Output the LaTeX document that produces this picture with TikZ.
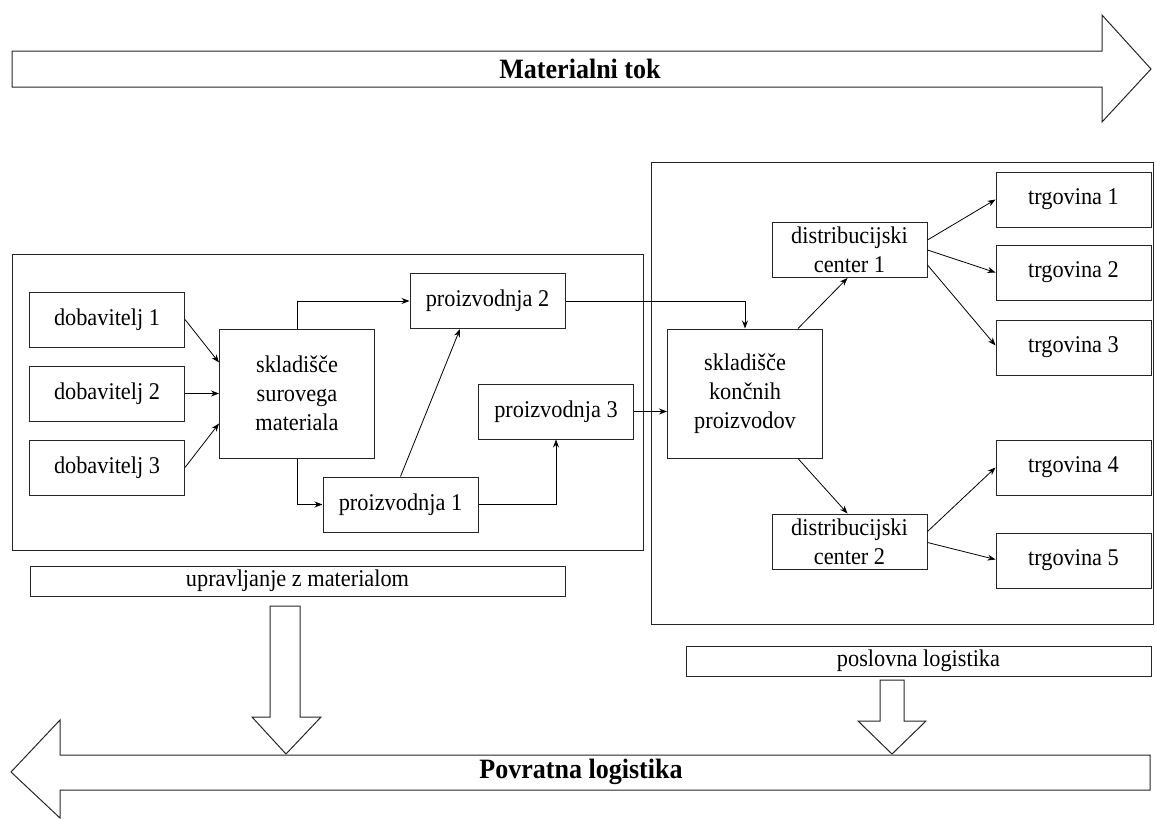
\documentclass[tikz,border=0pt]{standalone}
\usepackage{fontspec}
\setmainfont[FakeStretch=0.93]{Liberation Serif}
\usetikzlibrary{arrows.meta}
\begin{document}
\begin{tikzpicture}[x=1pt,y=-1pt,
  every node/.style={font=\fontsize{24}{29}\selectfont},
  line/.style={draw=black!85,line width=1pt},
  blk/.style={line,fill=white,align=center,inner sep=0pt,minimum width=155pt,minimum height=55pt},
  tallblk/.style={blk,minimum height=129pt},
  bar/.style={line,inner sep=0pt,minimum height=30pt},
  frame/.style={line},
  bigarrow/.style={line,fill=white,line join=miter},
  arr/.style={draw=black,line width=0.8pt,-{Stealth[length=8pt,width=6pt]}},
  title/.style={font=\fontsize{28}{32}\selectfont\bfseries}]
\useasboundingbox (0,0) rectangle (1157,819);

% material flow arrow
\draw[bigarrow] (12,51) -- (1102,51) -- (1102,15) -- (1151,69) -- (1102,122) -- (1102,87) -- (12,87) -- cycle;
\node[title] (mt) at (580,69) {Materialni tok};

% group frames
\draw[frame] (12,254) rectangle (643,550);
\draw[frame] (651,162) rectangle (1153,624);

% supply side
\node[blk] (d1) at (107,319.5) {dobavitelj 1};
\node[blk] (d2) at (107,393.5) {dobavitelj 2};
\node[blk] (d3) at (107,467.5) {dobavitelj 3};
\node[tallblk] (s1) at (297,393.5) {skladišče\\surovega\\materiala};
\node[blk] (p2) at (487.5,301) {proizvodnja 2};
\node[blk] (p3) at (556,411.5) {proizvodnja 3};
\node[blk] (p1) at (400.5,504.5) {proizvodnja 1};

% distribution side
\node[tallblk] (s2) at (745,393.5) {skladišče\\končnih\\proizvodov};
\node[blk] (c1) at (849.5,250) {distribucijski\\center 1};
\node[blk] (c2) at (849.5,541.5) {distribucijski\\center 2};
\node[blk] (t1) at (1073.5,199.5) {trgovina 1};
\node[blk] (t2) at (1073.5,272.5) {trgovina 2};
\node[blk] (t3) at (1073.5,347.5) {trgovina 3};
\node[blk] (t4) at (1073.5,467.5) {trgovina 4};
\node[blk] (t5) at (1073.5,560.5) {trgovina 5};

% labels under the frames
\node[bar,minimum width=535pt] (um) at (297.5,581) {upravljanje z materialom};
\node[bar,minimum width=465pt] (pl) at (918.5,661) {poslovna logistika};

% connectors
\draw[arr] (d1.east) -- ([yshift=31pt]s1.west);
\draw[arr] (d2.east) -- (s1.west);
\draw[arr] (d3.east) -- ([yshift=-30pt]s1.west);
\draw[arr] (s1.north) |- (p2.west);
\draw[arr] (s1.south) |- (p1.west);
\draw[arr] (p1.north) -- ([xshift=-27.5pt]p2.south);
\draw[arr] (p1.east) -| (p3.south);
\draw[arr] (p2.east) -| (s2.north);
\draw[arr] (p3.east) -- (p3.east -| s2.west);
\draw[arr] ([xshift=53pt]s2.north) -- ([xshift=-2pt]c1.south);
\draw[arr] ([xshift=53pt]s2.south) -- ([xshift=-2pt]c2.north);
\draw[arr] ([yshift=10pt]c1.east) -- (t1.west);
\draw[arr] (c1.east) -- (t2.west);
\draw[arr] ([yshift=-15pt]c1.east) -- ([yshift=2pt]t3.west);
\draw[arr] ([yshift=10pt]c2.east) -- (t4.west);
\draw[arr] ([yshift=-1pt]c2.east) -- ([yshift=1pt]t5.west);

% hollow arrows into reverse logistics
\draw[bigarrow] (270,606) -- (300,606) -- (300,717) -- (321,717) -- (286,754) -- (252,717) -- (270,717) -- cycle;
\draw[bigarrow] (880,680) -- (904,680) -- (904,721) -- (926,721) -- (892,754) -- (858,721) -- (880,721) -- cycle;

% reverse logistics arrow
\draw[bigarrow] (1150,755) -- (60,755) -- (60,720) -- (11,772) -- (60,818) -- (60,790) -- (1150,790) -- cycle;
\node[title] (pr) at (581,772) {Povratna logistika};
\end{tikzpicture}
\end{document}
